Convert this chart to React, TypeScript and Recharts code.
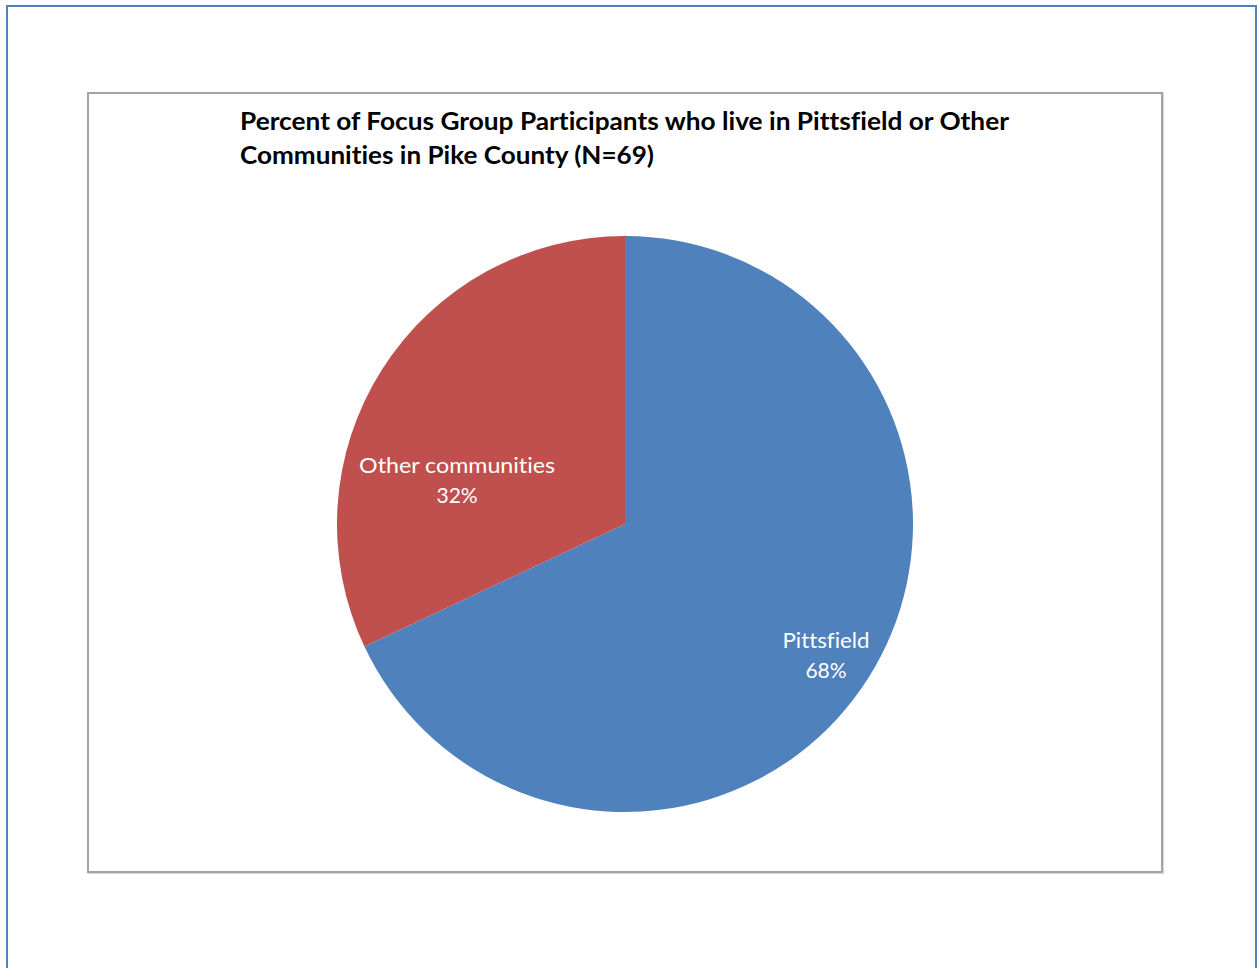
import React from "react";
import { PieChart, Pie, Cell } from "recharts";

// Share of focus group participants by where they live (Pike County, N=69).
const NAMES = ["Pittsfield", "Other communities"];
const VALUES = [68, 32];
const COLORS = ["#4f81bd", "#c0504d"];

const TITLE_LINES = [
  "Percent of Focus Group Participants who live in Pittsfield or Other",
  "Communities in Pike County (N=69)",
];

// Excel "best fit" label spots, in units of the outer radius from the centre
const LABEL_SPOT: Record<string, { dx: number; dy: number; w: number }> = {
  Pittsfield: { dx: 0.698, dy: 0.431, w: 87 },
  "Other communities": { dx: -0.583, dy: -0.177, w: 196 },
};

const FONT = "Lato, 'Open Sans', 'Liberation Sans', sans-serif";
const NO_LIGA = { fontVariantLigatures: "none" as const };

const data = NAMES.map((name, i) => ({ name, value: VALUES[i] }));

function SliceLabel(props: any) {
  const { cx, cy, outerRadius, name, percent } = props;
  const spot = LABEL_SPOT[name];
  if (!spot) return null;
  const x = cx + spot.dx * outerRadius;
  const y = cy + spot.dy * outerRadius;
  return (
    <g>
      <text
        x={x}
        y={y}
        textAnchor="middle"
        fill="#ffffff"
        fontSize={21}
        fontFamily={FONT}
        style={NO_LIGA}
        textLength={spot.w}
        lengthAdjust="spacingAndGlyphs"
      >
        {name}
      </text>
      <text
        x={x}
        y={y + 30}
        textAnchor="middle"
        fill="#ffffff"
        fontSize={21}
        fontFamily={FONT}
      >
        {`${Math.round(percent * 100)}%`}
      </text>
    </g>
  );
}

export default function App() {
  return (
    <div
      style={{
        position: "fixed",
        left: 0,
        top: 0,
        width: 1257,
        height: 968,
        overflow: "hidden",
        background: "#ffffff",
      }}
    >
      {/* outer page frame */}
      <div
        style={{
          position: "absolute",
          left: 6,
          top: 5,
          width: 1247,
          height: 1000,
          border: "2px solid #4f81bd",
        }}
      />
      {/* chart area frame */}
      <div
        style={{
          position: "absolute",
          left: 87,
          top: 92,
          width: 1072,
          height: 777,
          border: "2px solid #a3a3a3",
          boxShadow: "1px 1px 1px rgba(0,0,0,0.15)",
        }}
      />
      <svg
        width={1257}
        height={968}
        style={{ position: "absolute", left: 0, top: 0 }}
      >
        <text
          x={240}
          y={130}
          fontSize={24}
          fontWeight="bold"
          fontFamily={FONT}
          fill="#000000"
          style={NO_LIGA}
          textLength={769}
          lengthAdjust="spacingAndGlyphs"
        >
          {TITLE_LINES[0]}
        </text>
        <text
          x={240}
          y={164}
          fontSize={24}
          fontWeight="bold"
          fontFamily={FONT}
          fill="#000000"
          style={NO_LIGA}
          textLength={414}
          lengthAdjust="spacingAndGlyphs"
        >
          {TITLE_LINES[1]}
        </text>
      </svg>
      <div style={{ position: "absolute", left: 0, top: 0 }}>
        <PieChart
          width={1257}
          height={968}
          margin={{ top: 0, right: 0, bottom: 0, left: 0 }}
        >
          <Pie
            data={data}
            dataKey="value"
            nameKey="name"
            cx={625}
            cy={524}
            outerRadius={288}
            startAngle={90}
            endAngle={-270}
            stroke="none"
            label={SliceLabel}
            labelLine={false}
            isAnimationActive={false}
          >
            {data.map((d, i) => (
              <Cell key={d.name} fill={COLORS[i]} />
            ))}
          </Pie>
        </PieChart>
      </div>
    </div>
  );
}
